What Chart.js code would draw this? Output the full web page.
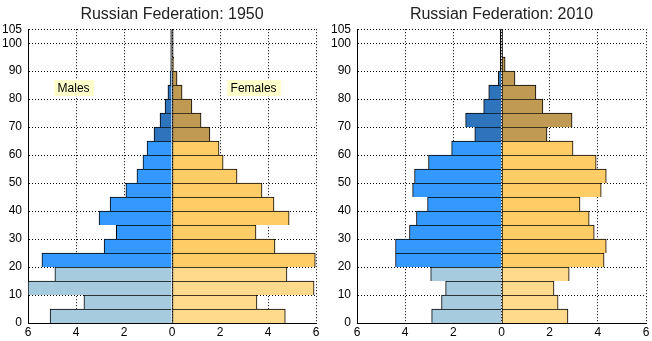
<!DOCTYPE html>
<html lang="en">
<head>
<meta charset="UTF-8">
<script src="https://cdn.jsdelivr.net/npm/chart.js"></script>
<style>
  body { margin: 0; background: #fff; }
  .row { display: flex; width: 652px; height: 341px; }
  canvas { display: block; }
</style>
</head>
<body>
<div class="row">
  <canvas id="pyr1950" width="326" height="341"></canvas>
  <canvas id="pyr2010" width="326" height="341"></canvas>
</div>
<script>
  // age groups, 5-year bands (first year of each band)
  const ageStarts = [0, 5, 10, 15, 20, 25, 30, 35, 40, 45, 50, 55, 60, 65, 70, 75, 80, 85, 90, 95, 100];
  const ageGroups = ['0-4', '5-9', '10-14', '15-19', '20-24', '25-29', '30-34', '35-39', '40-44', '45-49',
    '50-54', '55-59', '60-64', '65-69', '70-74', '75-79', '80-84', '85-89', '90-94', '95-99', '100+'];

  // population share in percent
  const males1950 = [5.08, 3.67, 6.0, 4.88, 5.42, 2.83, 2.32, 3.04, 2.58, 1.92, 1.46, 1.21, 1.04, 0.75, 0.5, 0.29, 0.17, 0.08, 0.05, 0.05, 0.05];
  const females1950 = [4.72, 3.54, 5.92, 4.79, 5.97, 4.29, 3.5, 4.88, 4.25, 3.75, 2.71, 2.13, 1.96, 1.58, 1.21, 0.83, 0.42, 0.21, 0.07, 0.05, 0.05];
  const males2010 = [2.9, 2.49, 2.32, 2.94, 4.4, 4.4, 3.82, 3.53, 3.07, 3.69, 3.61, 3.03, 2.07, 1.11, 1.49, 0.74, 0.53, 0.13, 0.05, 0.05, 0.05];
  const females2010 = [2.76, 2.35, 2.18, 2.81, 4.26, 4.35, 3.85, 3.64, 3.26, 4.14, 4.35, 3.93, 2.97, 1.89, 2.93, 1.72, 1.43, 0.56, 0.15, 0.05, 0.05];

  const xTicks = [-6, -4, -2, 0, 2, 4, 6];
  const yTicks = [0, 10, 20, 30, 40, 50, 60, 70, 80, 90, 100, 105];

  // colours: young (0-19), working age (20-64), elderly (65+)
  const maleColors = { young: '#a6cade', adult: '#3399ff', old: '#2e74bd' };
  const femaleColors = { young: '#ffd98c', adult: '#ffcc66', old: '#c09a52' };

  // hairline bars are all edge, so they show up black
  function bandColor(start, value, pal) {
    if (value <= 0.05) return '#000';
    if (start < 20) return pal.young;
    if (start < 65) return pal.adult;
    return pal.old;
  }

  const fontFamily = '"Liberation Sans", Arial, sans-serif';

  // yellow "Males" / "Females" tags
  const sideLabels = {
    id: 'sideLabels',
    afterDatasetsDraw(chart, args, opts) {
      if (!opts.items) return;
      const c = chart.ctx;
      c.save();
      c.font = '12px ' + fontFamily;
      c.textAlign = 'center';
      c.textBaseline = 'middle';
      opts.items.forEach(it => {
        const px = chart.scales.x.getPixelForValue(it.x);
        const py = chart.scales.y.getPixelForValue(it.y);
        const w = c.measureText(it.text).width + 8;
        c.fillStyle = '#ffffcc';
        c.fillRect(Math.round(px - w / 2), Math.round(py - 8), Math.round(w), 16);
        c.fillStyle = '#000';
        c.fillText(it.text, px, py + 1);
      });
      c.restore();
    }
  };

  function makePyramid(id, title, males, females, yWidth, rightPad, labels) {
    return new Chart(document.getElementById(id), {
      type: 'bar',
      data: {
        labels: ageGroups,
        datasets: [{
          label: 'Males',
          data: ageStarts.map((a, i) => ({ x: -males[i], y: a + 2.5 })),
          backgroundColor: ageStarts.map((a, i) => bandColor(a, males[i], maleColors)),
          borderColor: '#000',
          borderWidth: { top: 1, left: 1, right: 0, bottom: 0 },
          borderSkipped: false,
          categoryPercentage: 1,
          barPercentage: 1
        }, {
          label: 'Females',
          data: ageStarts.map((a, i) => ({ x: females[i], y: a + 2.5 })),
          backgroundColor: ageStarts.map((a, i) => bandColor(a, females[i], femaleColors)),
          borderColor: '#000',
          borderWidth: { top: 1, left: 1, right: 1, bottom: 0 },
          borderSkipped: false,
          categoryPercentage: 1,
          barPercentage: 1
        }]
      },
      options: {
        indexAxis: 'y',
        responsive: false,
        animation: false,
        devicePixelRatio: 1,
        layout: { padding: { right: rightPad, left: 0, top: 0, bottom: 0 } },
        scales: {
          x: {
            type: 'linear',
            stacked: true,
            min: -6,
            max: 6,
            afterBuildTicks: s => { s.ticks = xTicks.map(v => ({ value: v })); },
            afterFit: s => { s.height = 18; },
            ticks: {
              callback: v => Math.abs(v),
              color: '#000',
              padding: 2,
              maxRotation: 0,
              font: { family: fontFamily, size: 12 }
            },
            grid: { color: '#000', drawTicks: false, lineWidth: 1 },
            border: { color: '#000', width: 1, dash: [1, 2] }
          },
          y: {
            type: 'linear',
            stacked: true,
            offset: false,
            min: 0,
            max: 105,
            afterBuildTicks: s => { s.ticks = yTicks.map(v => ({ value: v })); },
            afterFit: s => { s.width = yWidth; },
            ticks: {
              color: '#000',
              padding: 6,
              font: { family: fontFamily, size: 12 }
            },
            grid: { color: '#000', offset: false, drawTicks: false, lineWidth: 1 },
            border: { color: '#000', width: 1, dash: [1, 2] }
          }
        },
        plugins: {
          legend: { display: false },
          tooltip: { enabled: false },
          title: {
            display: true,
            text: title,
            fullSize: false,
            color: '#222',
            padding: { top: 5, bottom: 5 },
            font: { family: fontFamily, size: 16, weight: 'normal' }
          },
          sideLabels: { items: labels }
        }
      },
      plugins: [sideLabels]
    });
  }

  makePyramid('pyr1950', 'Russian Federation: 1950', males1950, females1950, 28, 10, [
    { text: 'Males', x: -4.1, y: 84 },
    { text: 'Females', x: 3.4, y: 84 }
  ]);
  makePyramid('pyr2010', 'Russian Federation: 2010', males2010, females2010, 31, 6, null);
</script>
</body>
</html>
